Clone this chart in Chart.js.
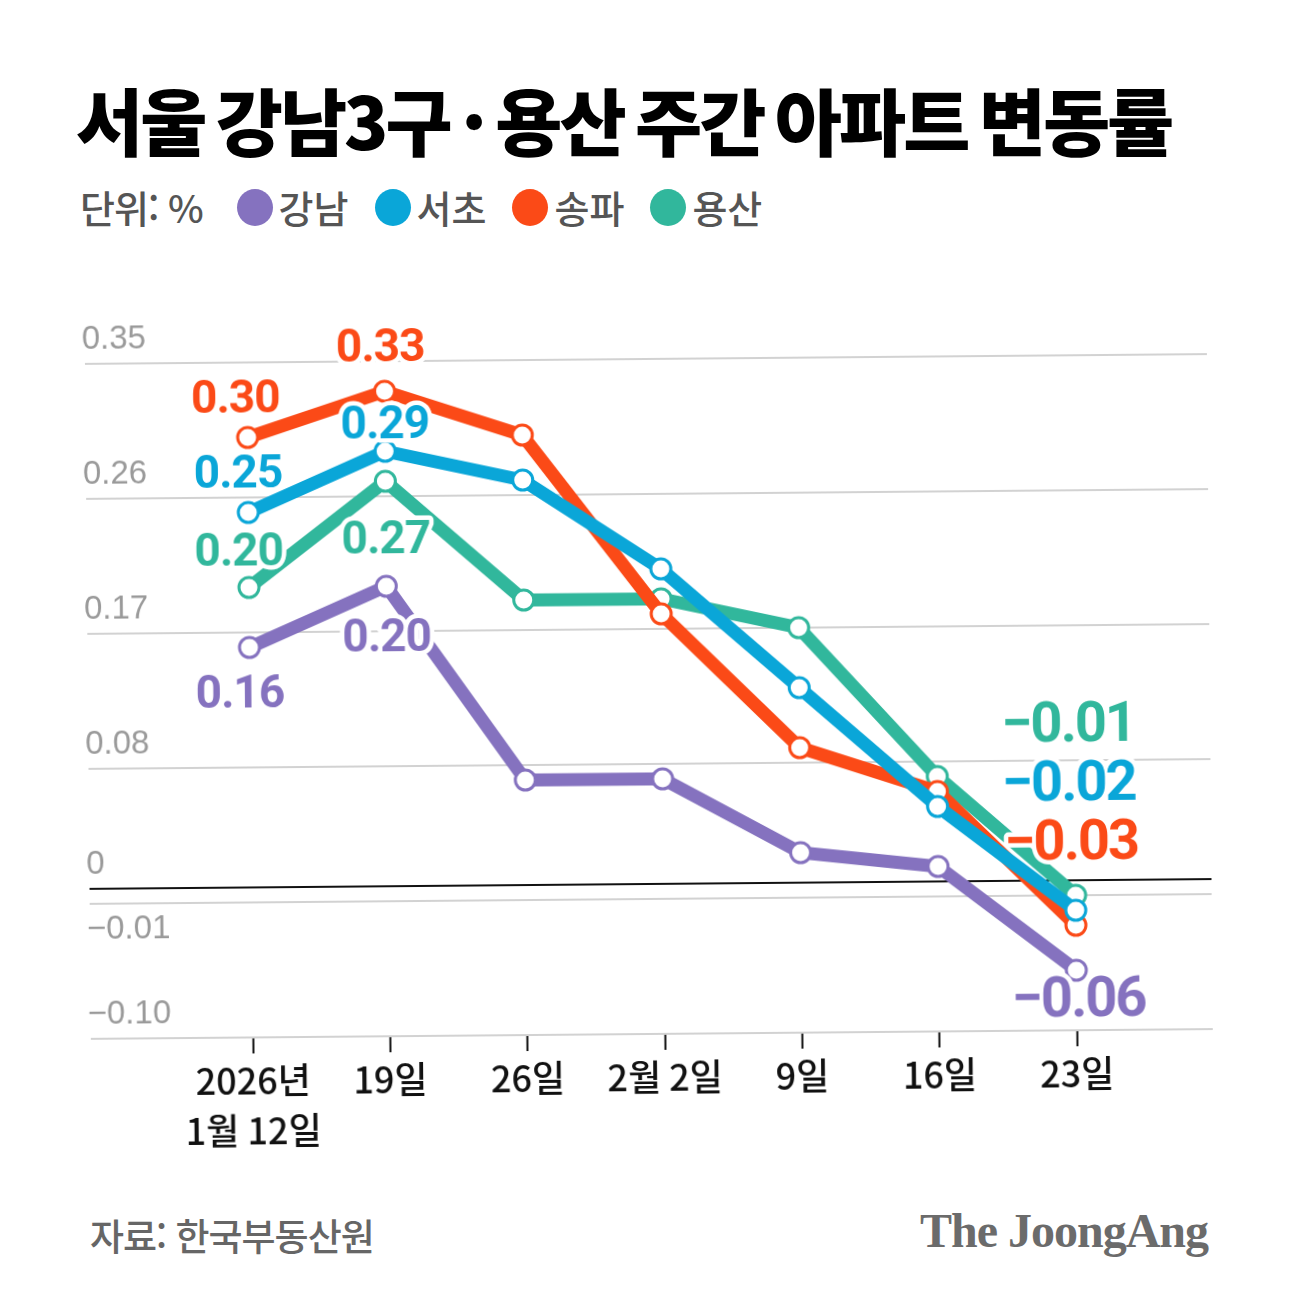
<!DOCTYPE html>
<html lang="ko">
<head>
<meta charset="utf-8">
<script src="https://cdn.jsdelivr.net/npm/chart.js@4"></script>
<style>
  html, body { margin: 0; padding: 0; background: #fff; }
  body { width: 1293px; height: 1312px; position: relative; overflow: hidden; font-family: "Noto Sans CJK KR", "Noto Sans", sans-serif; }
  .title { position: absolute; left: 76px; top: 82px; font-size: 73px; font-weight: 900; line-height: 1; letter-spacing: -3px; word-spacing: -6px; color: #000; white-space: nowrap; }
  .legend { position: absolute; left: 80px; top: 188px; font-size: 38px; font-weight: 500; line-height: 1; color: #555; display: flex; align-items: center; white-space: nowrap; }
  .legend .unit { margin-right: 34px; letter-spacing: -1px; }
  .legend .item { display: flex; align-items: center; margin-right: 26px; }
  .legend .dot { width: 36px; height: 37px; border-radius: 50%; margin-right: 6px; }
  .source { position: absolute; left: 90px; top: 1217px; font-size: 37px; font-weight: 500; line-height: 1; color: #666; letter-spacing: -1px; }
  .brand { position: absolute; right: 85px; top: 1207px; font-family: "Liberation Serif", serif; font-weight: bold; font-size: 48px; line-height: 1; color: #6b6b6b; letter-spacing: -1px; }
  #wrap { position: absolute; left: 0; top: 260px; width: 1293px; height: 900px; transform: rotate(-0.5deg); }
</style>
</head>
<body>
<div class="title">서울 강남3구 · 용산 주간 아파트 변동률</div>
<div class="legend" id="legend"><span class="unit">단위: %</span></div>
<div id="wrap"><canvas id="lineChart" width="1293" height="900"></canvas></div>
<div class="source">자료: 한국부동산원</div>
<div class="brand">The JoongAng</div>
<script>
const labels = [['2026년', '1월 12일'], '19일', '26일', '2월 2일', '9일', '16일', '23일'];
const seriesNames = ['강남', '서초', '송파', '용산'];
const gangnam = [0.16, 0.20, 0.07, 0.07, 0.02, 0.01, -0.06];
const seocho = [0.25, 0.29, 0.27, 0.21, 0.13, 0.05, -0.02];
const songpa = [0.30, 0.33, 0.30, 0.18, 0.09, 0.06, -0.03];
const yongsan = [0.20, 0.27, 0.19, 0.19, 0.17, 0.07, -0.01];
const yTicks = [0.35, 0.26, 0.17, 0.08, 0, -0.01, -0.10];

const colors = ['#8572bf', '#0aa6d8', '#fb4a17', '#31b79c'];

// where each value label sits relative to its point: [index, dx, dy, font size]
const labelSpots = [
  [[0, -10, 48, 46], [1, 0, 53, 46], [6, 2, 32, 56]],
  [[0, -10, -37, 46], [1, 0, -25, 46], [6, -6, -124, 56]],
  [[0, -12, -37, 46], [1, -4, -42, 46], [6, -4, -80, 56]],
  [[0, -10, -34, 46], [1, 0, 60, 46], [6, -6, -168, 56]]
];

function fmt(v) {
  return (v < 0 ? '\u2212' : '') + Math.abs(v).toFixed(2);
}

// html legend
const legend = document.getElementById('legend');
seriesNames.forEach((name, i) => {
  const item = document.createElement('span');
  item.className = 'item';
  item.innerHTML = '<span class="dot" style="background:' + colors[i] + '"></span>' + name;
  legend.appendChild(item);
});

const allSeries = [gangnam, seocho, songpa, yongsan];

// y tick labels sit above their grid line (the -0.01 one below it)
const yLabelPlugin = {
  id: 'yLabels',
  afterDraw(chart) {
    const ctx = chart.ctx;
    const y = chart.scales.y;
    ctx.save();
    ctx.font = '33px "Liberation Sans", sans-serif';
    ctx.fillStyle = '#9a9a9a';
    ctx.textAlign = 'left';
    ctx.textBaseline = 'middle';
    yTicks.forEach(v => {
      const py = y.getPixelForValue(v);
      const off = v === -0.01 ? 26 : -24;
      ctx.fillText(v === 0 ? '0' : fmt(v), chart.chartArea.left - 3, py + off);
    });
    ctx.restore();
  }
};

const valueLabelPlugin = {
  id: 'valueLabels',
  afterDatasetsDraw(chart) {
    const ctx = chart.ctx;
    ctx.save();
    ctx.textAlign = 'center';
    ctx.textBaseline = 'middle';
    ctx.lineJoin = 'round';
    allSeries.forEach((data, di) => {
      const meta = chart.getDatasetMeta(di);
      labelSpots[di].forEach(([idx, dx, dy, size]) => {
        const pt = meta.data[idx];
        ctx.font = 'bold ' + size + 'px Roboto, sans-serif';
        ctx.letterSpacing = size > 50 ? '-2px' : '-1px';
        const text = fmt(data[idx]);
        ctx.strokeStyle = '#fff';
        ctx.lineWidth = 9;
        ctx.strokeText(text, pt.x + dx, pt.y + dy);
        ctx.fillStyle = colors[di];
        ctx.fillText(text, pt.x + dx, pt.y + dy);
      });
    });
    ctx.restore();
  }
};

const ctxLine = document.getElementById('lineChart').getContext('2d');
new Chart(ctxLine, {
  type: 'line',
  data: {
    datasets: allSeries.map((data, i) => ({
      label: seriesNames[i],
      data: data.map((v, j) => ({ x: j, y: v })),
      borderColor: colors[i],
      borderWidth: 13,
      pointRadius: 10,
      pointBorderWidth: 3,
      pointBackgroundColor: '#fff',
      pointBorderColor: colors[i],
      tension: 0,
      clip: false
    }))
  },
  options: {
    responsive: false,
    animation: false,
    devicePixelRatio: 1,
    layout: { padding: { left: 88, right: 83, top: 99, bottom: 0 } },
    plugins: { legend: { display: false }, tooltip: { enabled: false } },
    scales: {
      x: {
        type: 'linear',
        min: -1.18,
        max: 6.99,
        afterBuildTicks(s) { s.ticks = labels.map((l, i) => ({ value: i })); },
        afterFit(s) { s.height = 126; },
        border: { display: false },
        grid: { drawOnChartArea: false, drawTicks: true, tickLength: 16, tickColor: '#111', tickWidth: 2 },
        ticks: {
          color: '#111',
          font: { family: '"Noto Sans CJK KR", sans-serif', size: 36, weight: 500, lineHeight: 1.4 },
          padding: 2,
          maxRotation: 0,
          autoSkip: false,
          callback: v => labels[v]
        }
      },
      y: {
        min: -0.10,
        max: 0.35,
        afterBuildTicks(s) { s.ticks = yTicks.map(v => ({ value: v })); },
        afterFit(s) { s.width = 0; },
        border: { display: false },
        grid: {
          drawTicks: false,
          lineWidth: 2,
          color: c => (c.tick && c.tick.value === 0 ? '#111' : '#d2d2d2')
        },
        ticks: { display: false }
      }
    }
  },
  plugins: [yLabelPlugin, valueLabelPlugin]
});
</script>
</body>
</html>
